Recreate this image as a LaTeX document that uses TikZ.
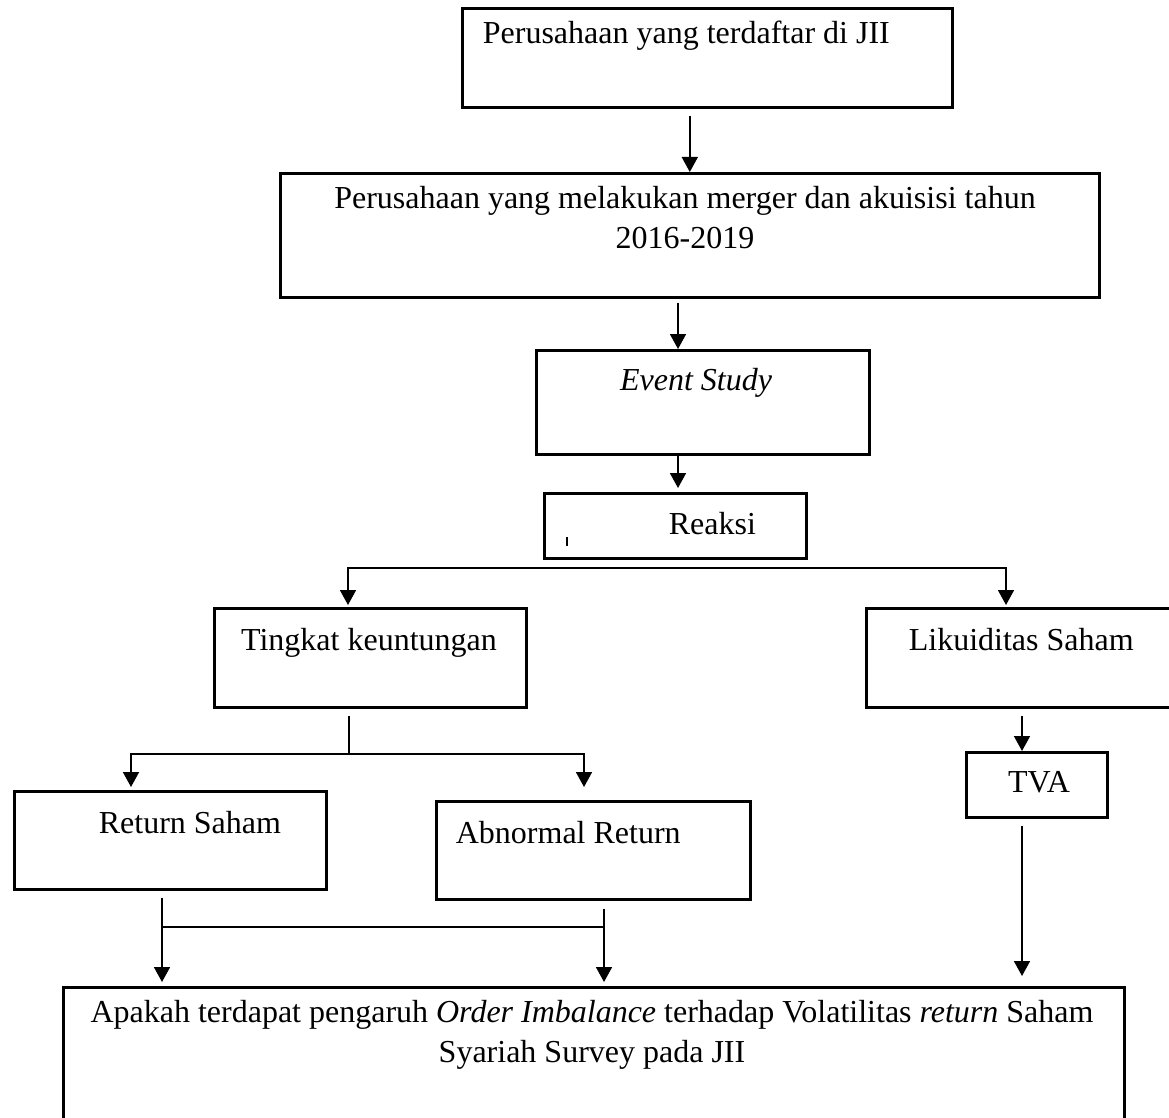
\documentclass[tikz,border=0pt]{standalone}
\usepackage{fontspec}
\setmainfont{Liberation Serif}
\usetikzlibrary{arrows.meta,positioning}
\tikzset{
mybox/.style={
  draw,
  line width=2.6pt,
  anchor=north west,
  inner sep=0pt
  },
mytext/.style={
  inner sep=0pt,
  align=center,
  font=\fontsize{32}{40}\selectfont,
  execute at begin node=\strut
  }
}
\begin{document}
\begin{tikzpicture}[x=1pt,y=-1pt,>={Triangle[width=16pt,length=15pt]},line width=1.7pt]
\useasboundingbox (0,0) rectangle (1169,1118);
\clip (0,0) rectangle (1169,1118);

\node[mybox,minimum width=490pt,minimum height=99pt] (jii) at (461,7) {};
\node[mybox,minimum width=819pt,minimum height=124pt] (merger) at (279,172) {};
\node[mybox,minimum width=333pt,minimum height=104pt] (event) at (535,349) {};
\node[mybox,minimum width=262pt,minimum height=65pt] (reaksi) at (543,492) {};
\node[mybox,minimum width=312pt,minimum height=99pt] (tingkat) at (213,607) {};
\node[mybox,minimum width=312pt,minimum height=99pt] (likuid) at (865,607) {};
\node[mybox,minimum width=141pt,minimum height=65pt] (tva) at (965,751) {};
\node[mybox,minimum width=312pt,minimum height=98pt] (retsaham) at (13,790) {};
\node[mybox,minimum width=314pt,minimum height=98pt] (abnret) at (435,800) {};
\node[mybox,minimum width=1061pt,minimum height=160pt] (akhir) at (62,986) {};

\node[mytext,anchor=north west] (jii-t) at (482,15) {Perusahaan yang terdaftar di JII};
\node[mytext,anchor=north] (merger-t) at (685,185) {Perusahaan yang melakukan merger dan akuisisi tahun\\2016-2019};
\node[mytext,anchor=north] (event-t) at (696,362) {\textit{Event Study}};
\node[mytext,anchor=north west] (reaksi-t) at (668,506) {Reaksi};
\node[mytext,anchor=north] (tingkat-t) at (369,622) {Tingkat keuntungan};
\node[mytext,anchor=north west] (likuid-t) at (908,622) {Likuiditas Saham};
\node[mytext,anchor=north] (tva-t) at (1039,764) {TVA};
\node[mytext,anchor=north west] (retsaham-t) at (98,805) {Return Saham};
\node[mytext,anchor=north west] (abnret-t) at (455,815) {Abnormal Return};
\node[mytext,anchor=north] (akhir-t) at (592,999) {Apakah terdapat pengaruh \textit{Order Imbalance} terhadap Volatilitas \textit{return} Saham\\Syariah Survey pada JII};

\draw[line width=1.2pt] (567,537) -- (567,546);

\coordinate (spine) at (678,0);
\draw[->] ([yshift=-7pt]jii.south -| merger.north) -- (merger.north);
\draw[->] ([yshift=-4pt]merger.south -| spine) -- (event.north -| spine);
\draw[->] (event.south -| spine) -- ([yshift=4pt]reaksi.north -| spine);

\coordinate (r-l) at (348,568);
\coordinate (r-r) at (1006,568);
\draw[<->] ([yshift=2pt]tingkat.north -| r-l) -- (r-l) -- (r-r) -- ([yshift=2pt]likuid.north -| r-r);

\coordinate (t-m) at (349,754);
\coordinate (t-l) at (131,754);
\coordinate (t-r) at (584,754);
\draw ([yshift=-7pt]tingkat.south -| t-m) -- (t-m);
\draw[<->] ([yshift=3pt]retsaham.north -| t-l) -- (t-l) -- (t-r) -- ([yshift=13pt]abnret.north -| t-r);

\coordinate (v) at (1022,0);
\draw[->] ([yshift=-7pt]likuid.south -| v) -- (tva.north -| v);
\draw[->] ([yshift=-7pt]tva.south -| v) -- ([yshift=10pt]akhir.north -| v);

\coordinate (b-l) at (162,927);
\coordinate (b-r) at (604,927);
\draw[->] ([yshift=-7pt]retsaham.south -| b-l) -- ([yshift=4pt]akhir.north -| b-l);
\draw[->] ([yshift=-8pt]abnret.south -| b-r) -- ([yshift=4pt]akhir.north -| b-r);
\draw (b-l) -- (b-r);
\end{tikzpicture}
\end{document}
